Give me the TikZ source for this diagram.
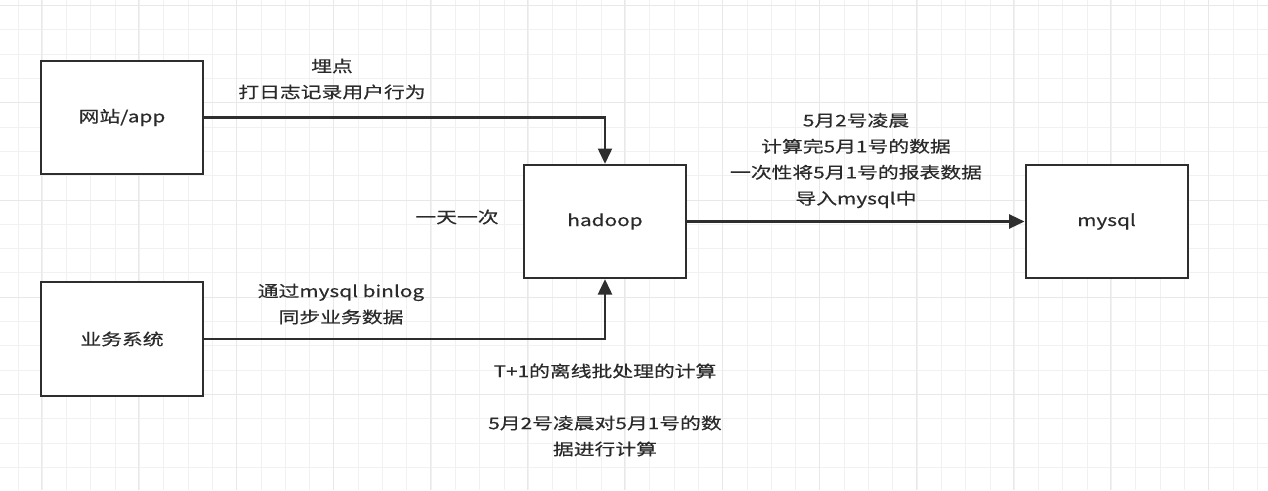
\documentclass[tikz,border=0pt]{standalone}
\usepackage{xcolor}
\usepackage{fontspec}
\usepackage{tikz}
\usetikzlibrary{arrows.meta}
\newfontfamily\cjk[FakeStretch=1.3,FakeBold=0.4]{Noto Sans CJK SC}
\definecolor{linec}{HTML}{2E2E2E}
\definecolor{textc}{HTML}{2A2A2A}
\definecolor{gridminor}{HTML}{F1F1F1}
\definecolor{gridmajor}{HTML}{E8E8E8}

\begin{document}
\begin{tikzpicture}[x=0.75pt,y=-0.75pt,
		every node/.style={text=textc, font=\cjk\fontsize{12}{19.5}\selectfont, align=center, inner sep=0pt},
		box/.style={draw=linec, line width=1.5pt, fill=white, minimum width=121.5pt, minimum height=85pt},
		flow/.style={draw=linec, line width=1.7pt, -{Triangle[length=11.5pt,width=10.5pt]}},
		note/.style={}]
		\useasboundingbox (0,0) rectangle (1268,490);
		\fill[white] (0,0) rectangle (1268,490);
		\foreach \i in {0,...,52} {
			\draw[gridminor, line width=0.75pt] ({18+24.3*\i},0) -- ({18+24.3*\i},490);
		}
		\foreach \j in {0,...,20} {
			\draw[gridminor, line width=0.75pt] (0,{5.6+24.3*\j}) -- (1268,{5.6+24.3*\j});
		}
		\foreach \i in {0,...,12} {
			\draw[gridmajor, line width=0.75pt] ({41.6+97.2*\i},0) -- ({41.6+97.2*\i},490);
		}
		\foreach \j in {0,...,5} {
			\draw[gridmajor, line width=0.75pt] (0,{5.6+97.2*\j}) -- (1268,{5.6+97.2*\j});
		}

		\node[box] (web) at (122,117.5) {网站/app};
		\node[box] (biz) at (122,339) {业务系统};
		\node[box] (hadoop) at (605,221.5) {hadoop};
		\node[box] (mysql) at (1106.5,221.5) {mysql};

		\draw[flow] (web.east) -| (hadoop.north);
		\draw[flow] (biz.east) -| (hadoop.south);
		\draw[flow] (hadoop) -- (mysql);

		\node[note] (logtxt) at (332,79) {埋点\\打日志记录用户行为};
		\node[note] (bintxt) at (341,304) {通过mysql binlog\\同步业务数据};
		\node[note] (daily) at (457,217) {一天一次};
		\node[note] (loadtxt) at (856,160.5) {5月2号凌晨\\计算完5月1号的数据\\一次性将5月1号的报表数据\\导入mysql中};
		\node[note] (batchtxt) at (605,410) {T+1的离线批处理的计算\\ \\5月2号凌晨对5月1号的数\\据进行计算};
	\end{tikzpicture}
\end{document}
